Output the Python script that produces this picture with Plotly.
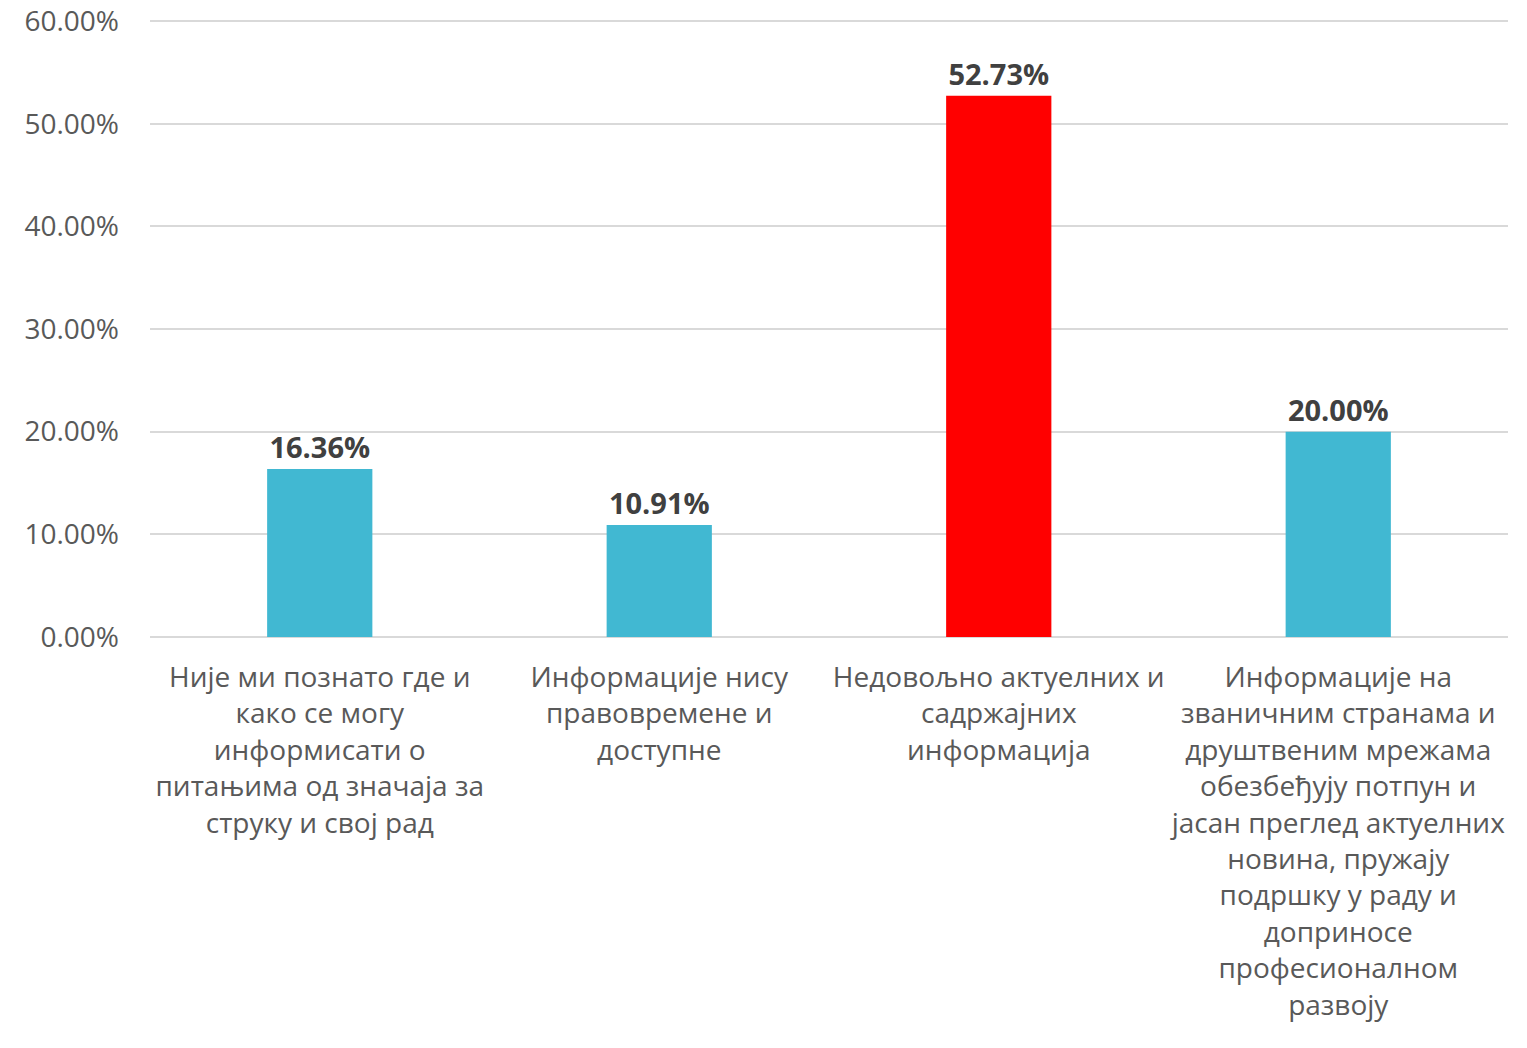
import plotly.graph_objects as go

categories = [
    "Није ми познато где и<br>како се могу<br>информисати о<br>питањима од значаја за<br>струку и свој рад",
    "Информације нису<br>правовремене и<br>доступне",
    "Недовољно актуелних и<br>садржајних<br>информација",
    "Информације на<br>званичним странама и<br>друштвеним мрежама<br>обезбеђују потпун и<br>јасан преглед актуелних<br>новина, пружају<br>подршку у раду и<br>доприносе<br>професионалном<br>развоју",
]
values = [16.36, 10.91, 52.73, 20.00]
colors = ["#41B8D2", "#41B8D2", "#FF0000", "#41B8D2"]
y_ticks = [0, 10, 20, 30, 40, 50, 60]
y_tick_labels = [f"{v:.2f}%" for v in y_ticks]

FONT = "Open Sans"

fig = go.Figure(
    go.Bar(
        x=categories,
        y=values,
        marker=dict(color=colors, line=dict(width=0)),
        text=[f"{v:.2f}%" for v in values],
        textposition="outside",
        textfont=dict(family=FONT, size=29, color="#404040", weight="bold"),
        cliponaxis=False,
    )
)

fig.update_layout(
    width=1527,
    height=1048,
    margin=dict(l=150, r=19, t=20, b=411),
    paper_bgcolor="white",
    plot_bgcolor="white",
    bargap=0.69,
    showlegend=False,
    font=dict(family=FONT, color="#595959"),
)
fig.update_yaxes(
    range=[0, 60.1],
    tickvals=y_ticks,
    ticktext=y_tick_labels,
    tickfont=dict(family=FONT, size=28, color="#595959"),
    showgrid=True,
    gridcolor="#D9D9D9",
    gridwidth=2,
    zeroline=True,
    zerolinecolor="#D9D9D9",
    zerolinewidth=2,
    showline=False,
    ticks="",
    ticklabelstandoff=30,
    ticklabeloverflow="allow",
    automargin=False,
)
fig.update_xaxes(
    tickfont=dict(family=FONT, size=28, color="#595959"),
    tickangle=0,
    showline=False,
    ticks="",
    ticklabelstandoff=21,
    ticklabeloverflow="allow",
    automargin=False,
)

fig.write_html(
    "out.html",
    config={"displayModeBar": False},
    post_script="document.body.style.margin='0';",
)
